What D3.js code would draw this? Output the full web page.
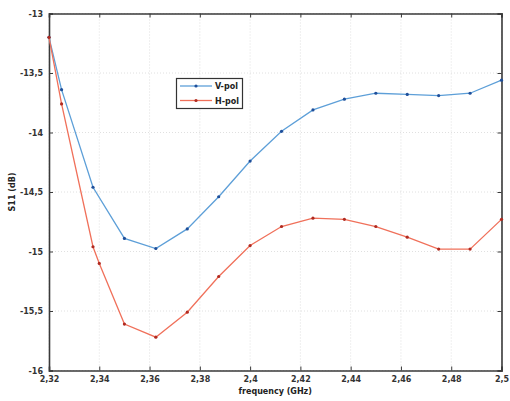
<!DOCTYPE html>
<html><head><meta charset="utf-8">
<script src="https://cdn.jsdelivr.net/npm/d3@7"></script>
<style>body{margin:0;background:#fff}svg{display:block}</style>
</head><body>
<script>
const freqV = [2.32, 2.325, 2.3375, 2.35, 2.3625, 2.375, 2.3875, 2.4, 2.4125, 2.425, 2.4375, 2.45, 2.4625, 2.475, 2.4875, 2.5];
const vPol  = [-13.2, -13.64, -14.46, -14.89, -14.975, -14.81, -14.54, -14.24, -13.99, -13.81, -13.72, -13.67, -13.68, -13.69, -13.67, -13.56];
const freqH = [2.32, 2.325, 2.3375, 2.34, 2.35, 2.3625, 2.375, 2.3875, 2.4, 2.4125, 2.425, 2.4375, 2.45, 2.4625, 2.475, 2.4875, 2.5];
const hPol  = [-13.2, -13.76, -14.96, -15.1, -15.61, -15.72, -15.51, -15.21, -14.95, -14.79, -14.72, -14.73, -14.79, -14.88, -14.98, -14.98, -14.73];
const xTicks = [2.32, 2.34, 2.36, 2.38, 2.4, 2.42, 2.44, 2.46, 2.48, 2.5];
const yTicks = [-13, -13.5, -14, -14.5, -15, -15.5, -16];
const seriesNames = ["V-pol", "H-pol"];

const W = 510, H = 401;
const L = 49, R = 501.5, T = 13.5, B = 370.5;
const svg = d3.select("body").append("svg").attr("width", W).attr("height", H);
const x = d3.scaleLinear().domain([2.32, 2.5]).range([L, R]);
const y = d3.scaleLinear().domain([-16, -13]).range([B, T]);
const fmt = d => String(d).replace(".", ",");
const font = "'DejaVu Sans', sans-serif";

// grid
const g = svg.append("g");
g.selectAll(".gx").data(xTicks).join("line")
  .attr("x1", d => x(d)).attr("x2", d => x(d)).attr("y1", T).attr("y2", B)
  .attr("stroke", "#d8d8d8").attr("stroke-width", 0.8).attr("stroke-dasharray", "1,2");
g.selectAll(".gy").data(yTicks).join("line")
  .attr("x1", L).attr("x2", R).attr("y1", d => y(d)).attr("y2", d => y(d))
  .attr("stroke", "#d8d8d8").attr("stroke-width", 0.8).attr("stroke-dasharray", "1,2");

// axes (bottom & left with labels, top & right mirrored inward ticks)
const axB = svg.append("g").attr("transform", `translate(0,${B})`)
  .call(d3.axisBottom(x).tickValues(xTicks).tickSize(-4).tickPadding(6).tickFormat(fmt));
const axT = svg.append("g").attr("transform", `translate(0,${T})`)
  .call(d3.axisTop(x).tickValues(xTicks).tickSize(-4).tickFormat(""));
const axL = svg.append("g").attr("transform", `translate(${L},0)`)
  .call(d3.axisLeft(y).tickValues(yTicks).tickSize(-4).tickPadding(6).tickFormat(fmt));
const axR = svg.append("g").attr("transform", `translate(${R},0)`)
  .call(d3.axisRight(y).tickValues(yTicks).tickSize(-4).tickFormat(""));
[axB, axT, axL, axR].forEach(a => {
  a.select(".domain").attr("stroke", "#3a3a3a").attr("stroke-width", 1.6);
  a.selectAll(".tick line").attr("stroke", "#3a3a3a").attr("stroke-width", 1);
  a.selectAll("text").attr("font-family", font).attr("font-size", 8).attr("font-weight", "bold").attr("fill", "#333");
});

// lines
const line = d3.line().x(d => x(d[0])).y(d => y(d[1]));
const dataV = freqV.map((f, i) => [f, vPol[i]]);
const dataH = freqH.map((f, i) => [f, hPol[i]]);
const series = [
  {name: seriesNames[0], data: dataV, color: "#5d9fd8", mk: "#1f4f9a"},
  {name: seriesNames[1], data: dataH, color: "#f0705a", mk: "#b02a20"}
];
series.forEach(s => {
  svg.append("path").datum(s.data).attr("d", line).attr("fill", "none")
    .attr("stroke", s.color).attr("stroke-width", 1.3);
  svg.append("g").selectAll("circle").data(s.data).join("circle")
    .attr("cx", d => x(d[0])).attr("cy", d => y(d[1])).attr("r", 1.6).attr("fill", s.mk);
});

// legend
const lg = svg.append("g");
lg.append("rect").attr("x", 176.5).attr("y", 78.5).attr("width", 66).attr("height", 30)
  .attr("fill", "#fff").attr("stroke", "#333").attr("stroke-width", 1.2);
series.forEach((s, i) => {
  const yy = 86 + i * 14.5;
  lg.append("line").attr("x1", 180).attr("x2", 212).attr("y1", yy).attr("y2", yy)
    .attr("stroke", s.color).attr("stroke-width", 1.3);
  lg.append("circle").attr("cx", 196).attr("cy", yy).attr("r", 1.6).attr("fill", s.mk);
  lg.append("text").attr("x", 215).attr("y", yy + 3).text(s.name)
    .attr("font-family", font).attr("font-size", 8).attr("font-weight", "bold").attr("fill", "#222");
});

// axis labels
svg.append("text").attr("x", (L + R) / 2 + 0).attr("y", 394).attr("text-anchor", "middle")
  .text("frequency (GHz)").attr("font-family", font).attr("font-size", 8).attr("font-weight", "bold").attr("fill", "#222");
svg.append("text").attr("transform", `translate(15,${(T + B) / 2 + 0}) rotate(-90)`).attr("text-anchor", "middle")
  .text("S11 (dB)").attr("font-family", font).attr("font-size", 8).attr("font-weight", "bold").attr("fill", "#222");
</script>
</body></html>
